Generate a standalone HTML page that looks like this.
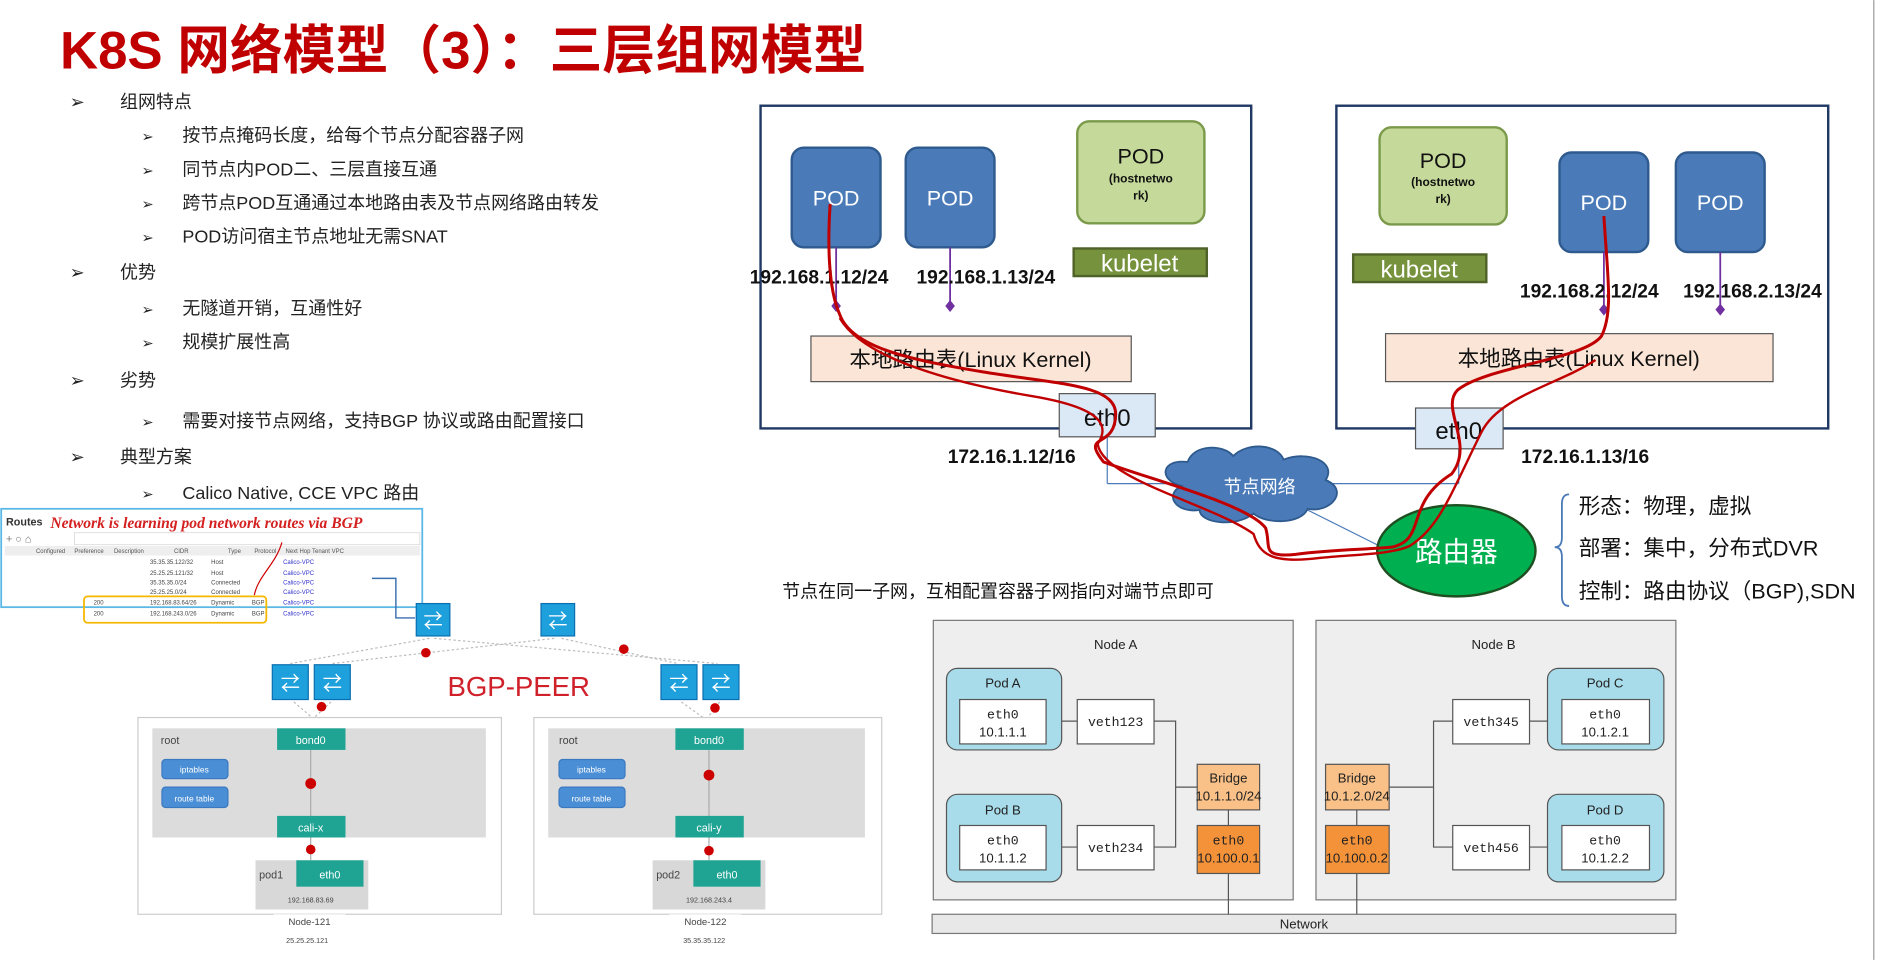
<!DOCTYPE html>
<html><head><meta charset="utf-8"><style>
html,body{margin:0;padding:0;background:#fff;}
svg{display:block;font-family:"Liberation Sans","Noto Sans CJK SC",sans-serif;}
</style></head><body>
<svg width="1881" height="960" viewBox="0 0 1568 800" xmlns="http://www.w3.org/2000/svg">
<rect width="1568" height="800" fill="#fff"/>
<line x1="1562" y1="0" x2="1562" y2="800" stroke="#999" stroke-width="1"/>
<text x="50" y="57" font-size="44" font-weight="bold" fill="#c00000">K8S 网络模型（3）：三层组网模型</text>

<g font-size="15" fill="#222">
<text x="58" y="90">➢</text><text x="100" y="90">组网特点</text>
<text x="118" y="118" font-size="12">➢</text><text x="152" y="118">按节点掩码长度，给每个节点分配容器子网</text>
<text x="118" y="146" font-size="12">➢</text><text x="152" y="146">同节点内POD二、三层直接互通</text>
<text x="118" y="174" font-size="12">➢</text><text x="152" y="174">跨节点POD互通通过本地路由表及节点网络路由转发</text>
<text x="118" y="202" font-size="12">➢</text><text x="152" y="202">POD访问宿主节点地址无需SNAT</text>
<text x="58" y="232">➢</text><text x="100" y="232">优势</text>
<text x="118" y="262" font-size="12">➢</text><text x="152" y="262">无隧道开销，互通性好</text>
<text x="118" y="290" font-size="12">➢</text><text x="152" y="290">规模扩展性高</text>
<text x="58" y="322">➢</text><text x="100" y="322">劣势</text>
<text x="118" y="356" font-size="12">➢</text><text x="152" y="356">需要对接节点网络，支持BGP 协议或路由配置接口</text>
<text x="58" y="386">➢</text><text x="100" y="386">典型方案</text>
<text x="118" y="416" font-size="12">➢</text><text x="152" y="416">Calico Native, CCE VPC 路由</text>
</g>

<!-- Routes screenshot -->
<rect x="1" y="424" width="351" height="82" fill="#fff" stroke="#5bb8e6" stroke-width="1.5"/>
<text x="5" y="438" font-size="9" font-weight="bold" fill="#333">Routes</text>
<text x="42" y="440" font-size="13" font-style="italic" font-weight="bold" fill="#d42020" font-family="Liberation Serif,serif">Network is learning pod network routes via BGP</text>
<rect x="62" y="444" width="288" height="10" fill="#fff" stroke="#ccc" stroke-width="0.5"/>
<text x="5" y="452" font-size="9" fill="#777">+ ○ ⌂</text>
<rect x="4" y="455" width="346" height="8" fill="#eee"/>
<g font-size="5" fill="#555">
<text x="30" y="461">Configured</text><text x="62" y="461">Preference</text><text x="95" y="461">Description</text><text x="145" y="461">CIDR</text><text x="190" y="461">Type</text><text x="212" y="461">Protocol</text><text x="238" y="461">Next Hop Tenant VPC</text>
</g>
<g font-size="5" fill="#444">
<text x="125" y="470">35.35.35.122/32</text><text x="176" y="470">Host</text><text x="236" y="470" fill="#33c">Calico-VPC</text>
<text x="125" y="479">25.25.25.121/32</text><text x="176" y="479">Host</text><text x="236" y="479" fill="#33c">Calico-VPC</text>
<text x="125" y="487">35.35.35.0/24</text><text x="176" y="487">Connected</text><text x="236" y="487" fill="#33c">Calico-VPC</text>
<text x="125" y="495">25.25.25.0/24</text><text x="176" y="495">Connected</text><text x="236" y="495" fill="#33c">Calico-VPC</text>
<text x="78" y="504">200</text><text x="125" y="504">192.168.83.64/26</text><text x="176" y="504">Dynamic</text><text x="210" y="504">BGP</text><text x="236" y="504" fill="#33c">Calico-VPC</text>
<text x="78" y="513">200</text><text x="125" y="513">192.168.243.0/26</text><text x="176" y="513">Dynamic</text><text x="210" y="513">BGP</text><text x="236" y="513" fill="#33c">Calico-VPC</text>
</g>
<rect x="70" y="497" width="152" height="22" rx="3" fill="none" stroke="#f5b800" stroke-width="1.5"/>
<path d="M235 452 C230 470 215 480 212 496" fill="none" stroke="#c00" stroke-width="1"/>
<polyline points="310,482 330,482 330,515 346,515" fill="none" stroke="#3a6fb0" stroke-width="1.2"/>

<!-- Calico diagram -->
<g stroke="#bbb" stroke-width="1" stroke-dasharray="2,2" fill="none">
<line x1="358" y1="532" x2="242" y2="553"/><line x1="362" y1="532" x2="598" y2="553"/>
<line x1="462" y1="532" x2="277" y2="553"/><line x1="468" y1="532" x2="565" y2="553"/>
<line x1="245" y1="585" x2="260" y2="598"/><line x1="276" y1="585" x2="262" y2="598"/>
<line x1="568" y1="585" x2="586" y2="598"/><line x1="600" y1="585" x2="590" y2="598"/>
</g>
<g fill="#1ea0dc" stroke="#0a6fb0" stroke-width="1">
<rect x="347" y="503" width="28" height="27"/><rect x="451" y="503" width="28" height="27"/>
<rect x="227" y="554" width="30" height="29"/><rect x="262" y="554" width="30" height="29"/>
<rect x="551" y="554" width="30" height="29"/><rect x="586" y="554" width="30" height="29"/>
</g>
<g fill="#fff" font-size="16" text-anchor="middle">
<text x="361" y="523">⇄</text><text x="465" y="523">⇄</text>
<text x="242" y="575">⇄</text><text x="277" y="575">⇄</text><text x="566" y="575">⇄</text><text x="601" y="575">⇄</text>
</g>
<text x="373" y="580" font-size="23" fill="#d0202a">BGP-PEER</text>

<rect x="115" y="598" width="303" height="164" fill="#fff" stroke="#ccc"/>
<rect x="127" y="607" width="278" height="91" fill="#dcdcdc"/>
<rect x="445" y="598" width="290" height="164" fill="#fff" stroke="#ccc"/>
<rect x="457" y="607" width="264" height="91" fill="#dcdcdc"/>
<rect x="228" y="762" width="60" height="12" fill="#fff"/><rect x="558" y="762" width="60" height="12" fill="#fff"/>
<line x1="259" y1="625" x2="259" y2="717" stroke="#aaa"/><line x1="591" y1="625" x2="591" y2="717" stroke="#aaa"/>
<g fill="#1fa393">
<rect x="231" y="607" width="57" height="18"/><rect x="231" y="680" width="57" height="18"/>
<rect x="563" y="607" width="57" height="18"/><rect x="563" y="680" width="57" height="18"/>
</g>
<rect x="213" y="717" width="94" height="41" fill="#d8d8d8"/><rect x="247" y="717" width="56" height="22" fill="#1fa393"/>
<rect x="544" y="717" width="94" height="41" fill="#d8d8d8"/><rect x="578" y="717" width="56" height="22" fill="#1fa393"/>
<g fill="#4a8fd6" stroke="#3a78c0">
<rect x="135" y="633" width="55" height="16" rx="3"/><rect x="135" y="656" width="55" height="17" rx="3"/>
<rect x="466" y="633" width="55" height="16" rx="3"/><rect x="466" y="656" width="55" height="17" rx="3"/>
</g>
<g font-size="9" fill="#fff" text-anchor="middle">
<text x="259" y="620">bond0</text><text x="259" y="693">cali-x</text><text x="275" y="732">eth0</text>
<text x="591" y="620">bond0</text><text x="591" y="693">cali-y</text><text x="606" y="732">eth0</text>
<text x="162" y="644" font-size="7">iptables</text><text x="162" y="668" font-size="7">route table</text>
<text x="493" y="644" font-size="7">iptables</text><text x="493" y="668" font-size="7">route table</text>
</g>
<g font-size="9" fill="#444">
<text x="134" y="620">root</text><text x="466" y="620">root</text>
<text x="216" y="732">pod1</text><text x="547" y="732">pod2</text>
</g>
<g font-size="6" fill="#444" text-anchor="middle">
<text x="259" y="752">192.168.83.69</text><text x="591" y="752">192.168.243.4</text>
<text x="258" y="771" font-size="8">Node-121</text><text x="588" y="771" font-size="8">Node-122</text>
<text x="256" y="786">25.25.25.121</text><text x="587" y="786">35.35.35.122</text>
</g>
<g fill="#c00">
<circle cx="268" cy="589" r="4"/><circle cx="355" cy="544" r="4"/><circle cx="520" cy="541" r="4"/><circle cx="596" cy="590" r="4"/>
<circle cx="259" cy="653" r="4.5"/><circle cx="259" cy="708" r="4"/><circle cx="591" cy="646" r="4.5"/><circle cx="591" cy="709" r="4"/>
</g>

<!-- top right node 1 -->
<rect x="634" y="88" width="409" height="269" fill="#fff" stroke="#1f3864" stroke-width="2"/>
<rect x="1114" y="88" width="410" height="269" fill="#fff" stroke="#1f3864" stroke-width="2"/>
<g fill="#4a7ab8" stroke="#2e5a8e" stroke-width="2">
<rect x="660" y="123" width="74" height="83" rx="10"/><rect x="755" y="123" width="74" height="83" rx="10"/>
<rect x="1300" y="127" width="74" height="83" rx="10"/><rect x="1397" y="127" width="74" height="83" rx="10"/>
</g>
<g fill="#c5d99a" stroke="#7a9a4a" stroke-width="2">
<rect x="898" y="101" width="106" height="85" rx="10"/><rect x="1150" y="106" width="106" height="81" rx="10"/>
</g>
<g fill="#fff" font-size="18" text-anchor="middle">
<text x="697" y="171">POD</text><text x="792" y="171">POD</text><text x="1337" y="175">POD</text><text x="1434" y="175">POD</text>
</g>
<g fill="#111" text-anchor="middle">
<text x="951" y="136" font-size="18">POD</text><text x="951" y="152" font-size="10" font-weight="bold">(hostnetwo</text><text x="951" y="166" font-size="10" font-weight="bold">rk)</text>
<text x="1203" y="140" font-size="18">POD</text><text x="1203" y="155" font-size="10" font-weight="bold">(hostnetwo</text><text x="1203" y="169" font-size="10" font-weight="bold">rk)</text>
</g>
<rect x="895" y="207" width="111" height="23" fill="#76923c" stroke="#4f6228" stroke-width="2"/>
<rect x="1128" y="212" width="111" height="23" fill="#76923c" stroke="#4f6228" stroke-width="2"/>
<text x="950" y="226" font-size="20" fill="#fff" text-anchor="middle">kubelet</text>
<text x="1183" y="231" font-size="20" fill="#fff" text-anchor="middle">kubelet</text>
<g stroke="#7030a0" stroke-width="1.5">
<line x1="697" y1="206" x2="697" y2="255"/><line x1="792" y1="206" x2="792" y2="255"/>
<line x1="1337" y1="210" x2="1337" y2="258"/><line x1="1434" y1="210" x2="1434" y2="258"/>
</g>
<g fill="#7030a0">
<path d="M697 250 l4 5 -4 5 -4 -5z"/><path d="M792 250 l4 5 -4 5 -4 -5z"/>
<path d="M1337 253 l4 5 -4 5 -4 -5z"/><path d="M1434 253 l4 5 -4 5 -4 -5z"/>
</g>
<g font-size="16" font-weight="bold" fill="#111">
<text x="625" y="236">192.168.1.12/24</text><text x="764" y="236">192.168.1.13/24</text>
<text x="1267" y="248">192.168.2.12/24</text><text x="1403" y="248">192.168.2.13/24</text>
<text x="790" y="386">172.16.1.12/16</text><text x="1268" y="386">172.16.1.13/16</text>
</g>
<rect x="676" y="280" width="267" height="38" fill="#fbe5d6" stroke="#555"/>
<rect x="1155" y="278" width="323" height="40" fill="#fbe5d6" stroke="#555"/>
<text x="809" y="306" font-size="18" text-anchor="middle" fill="#111">本地路由表(Linux Kernel)</text>
<text x="1316" y="305" font-size="18" text-anchor="middle" fill="#111">本地路由表(Linux Kernel)</text>
<line x1="923" y1="364" x2="923" y2="403" stroke="#4a7ab8"/><line x1="923" y1="403" x2="980" y2="403" stroke="#4a7ab8"/>
<line x1="1216" y1="374" x2="1216" y2="403" stroke="#4a7ab8"/><line x1="1216" y1="403" x2="1110" y2="403" stroke="#4a7ab8"/>
<line x1="1080" y1="420" x2="1150" y2="455" stroke="#4a7ab8"/>
<rect x="883" y="328" width="80" height="36" fill="#dbe8f5" stroke="#555"/>
<rect x="1180" y="340" width="73" height="34" fill="#dbe8f5" stroke="#555"/>
<text x="923" y="355" font-size="20" text-anchor="middle" fill="#111">eth0</text>
<text x="1216" y="366" font-size="20" text-anchor="middle" fill="#111">eth0</text>
<!-- cloud -->
<g fill="#4a7ab8" stroke="#2e5a8e" stroke-width="1.5">
<path d="M985 405 C965 400 968 382 990 385 C995 370 1020 370 1028 380 C1040 368 1065 370 1070 383 C1090 375 1115 385 1105 400 C1125 408 1110 428 1090 424 C1085 437 1055 437 1045 428 C1030 440 1000 436 1000 425 C980 428 970 412 985 405Z"/>
</g>
<text x="1050" y="411" font-size="15" fill="#fff" text-anchor="middle">节点网络</text>
<ellipse cx="1214" cy="459" rx="66" ry="38" fill="#00b050" stroke="#1f4e20" stroke-width="2"/>
<text x="1214" y="468" font-size="23" fill="#fff" text-anchor="middle">路由器</text>
<path d="M1308 412 q-6 0 -6 8 v28 q0 8 -6 8 q6 0 6 8 v33 q0 8 6 8" fill="none" stroke="#4a7ab8" stroke-width="1.5"/>
<g font-size="18" fill="#111">
<text x="1316" y="428">形态：物理，虚拟</text>
<text x="1316" y="463">部署：集中，分布式DVR</text>
<text x="1316" y="499">控制：路由协议（BGP),SDN</text>
</g>
<!-- red path -->
<path d="M692 170 C690 200 690 240 700 262 C710 290 760 300 820 310 C880 320 930 320 930 345 C930 375 900 360 920 385 C960 400 1040 420 1055 440 C1060 455 1050 465 1080 462 C1110 458 1140 458 1160 456 C1190 450 1170 420 1210 395 C1230 370 1200 340 1215 325 C1240 305 1320 300 1335 280 C1345 260 1340 230 1337 180" fill="none" stroke="#c00000" stroke-width="2.5"/>
<path d="M700 265 C720 300 800 320 860 330 C920 340 925 355 915 370 C920 400 1010 420 1045 445 C1050 462 1060 470 1100 465 C1130 462 1160 462 1175 455 C1200 440 1210 410 1235 360 C1250 330 1300 320 1330 300" fill="none" stroke="#c00000" stroke-width="2"/>
<text x="652" y="498" font-size="15" fill="#111">节点在同一子网，互相配置容器子网指向对端节点即可</text>

<!-- bottom right diagram -->
<rect x="778" y="517" width="300" height="233" fill="#eeeeee" stroke="#777"/>
<rect x="1097" y="517" width="300" height="233" fill="#eeeeee" stroke="#777"/>
<rect x="777" y="762" width="620" height="16" fill="#e8e8e8" stroke="#777"/>
<text x="1087" y="774" font-size="11" text-anchor="middle" fill="#222">Network</text>
<text x="930" y="541" font-size="11" text-anchor="middle" fill="#222">Node A</text>
<text x="1245" y="541" font-size="11" text-anchor="middle" fill="#222">Node B</text>
<g stroke="#555" fill="none">
<line x1="1024" y1="728" x2="1024" y2="762"/><line x1="1131" y1="728" x2="1131" y2="762"/>
<line x1="1024" y1="675" x2="1024" y2="688"/><line x1="1131" y1="675" x2="1131" y2="688"/>
<line x1="872" y1="601" x2="898" y2="601"/><line x1="872" y1="706" x2="898" y2="706"/>
<polyline points="962,601 980,601 980,706 962,706"/><line x1="980" y1="656" x2="998" y2="656"/>
<line x1="1275" y1="601" x2="1302" y2="601"/><line x1="1275" y1="706" x2="1302" y2="706"/>
<polyline points="1211,601 1195,601 1195,706 1211,706"/><line x1="1158" y1="656" x2="1195" y2="656"/>
</g>
<g fill="#a8dcea" stroke="#555">
<rect x="789" y="557" width="96" height="68" rx="9"/><rect x="789" y="662" width="96" height="73" rx="9"/>
<rect x="1290" y="557" width="97" height="68" rx="9"/><rect x="1290" y="662" width="97" height="73" rx="9"/>
</g>
<g fill="#fff" stroke="#555">
<rect x="800" y="583" width="72" height="37"/><rect x="800" y="688" width="72" height="37"/>
<rect x="898" y="583" width="64" height="37"/><rect x="898" y="688" width="64" height="37"/>
<rect x="1211" y="583" width="64" height="37"/><rect x="1211" y="688" width="64" height="37"/>
<rect x="1302" y="583" width="73" height="37"/><rect x="1302" y="688" width="73" height="37"/>
</g>
<rect x="998" y="637" width="52" height="38" fill="#f9c088" stroke="#555"/>
<rect x="1105" y="637" width="53" height="38" fill="#f9c088" stroke="#555"/>
<rect x="998" y="688" width="52" height="40" fill="#f4923a" stroke="#555"/>
<rect x="1105" y="688" width="53" height="40" fill="#f4923a" stroke="#555"/>
<g font-size="11" fill="#222" text-anchor="middle">
<text x="836" y="573">Pod A</text><text x="836" y="679">Pod B</text><text x="1338" y="573">Pod C</text><text x="1338" y="679">Pod D</text>
<text x="1024" y="652">Bridge</text><text x="1024" y="667">10.1.1.0/24</text>
<text x="1131" y="652">Bridge</text><text x="1131" y="667">10.1.2.0/24</text>
<text x="836" y="614">10.1.1.1</text><text x="836" y="719">10.1.1.2</text>
<text x="1338" y="614">10.1.2.1</text><text x="1338" y="719">10.1.2.2</text>
<text x="1024" y="719">10.100.0.1</text><text x="1131" y="719">10.100.0.2</text>
</g>
<g font-size="11" fill="#222" text-anchor="middle" font-family="Liberation Mono,monospace">
<text x="836" y="599">eth0</text><text x="836" y="704">eth0</text><text x="1338" y="599">eth0</text><text x="1338" y="704">eth0</text>
<text x="1024" y="704">eth0</text><text x="1131" y="704">eth0</text>
<text x="930" y="605">veth123</text><text x="930" y="710">veth234</text>
<text x="1243" y="605">veth345</text><text x="1243" y="710">veth456</text>
</g>
</svg>
</body></html>
